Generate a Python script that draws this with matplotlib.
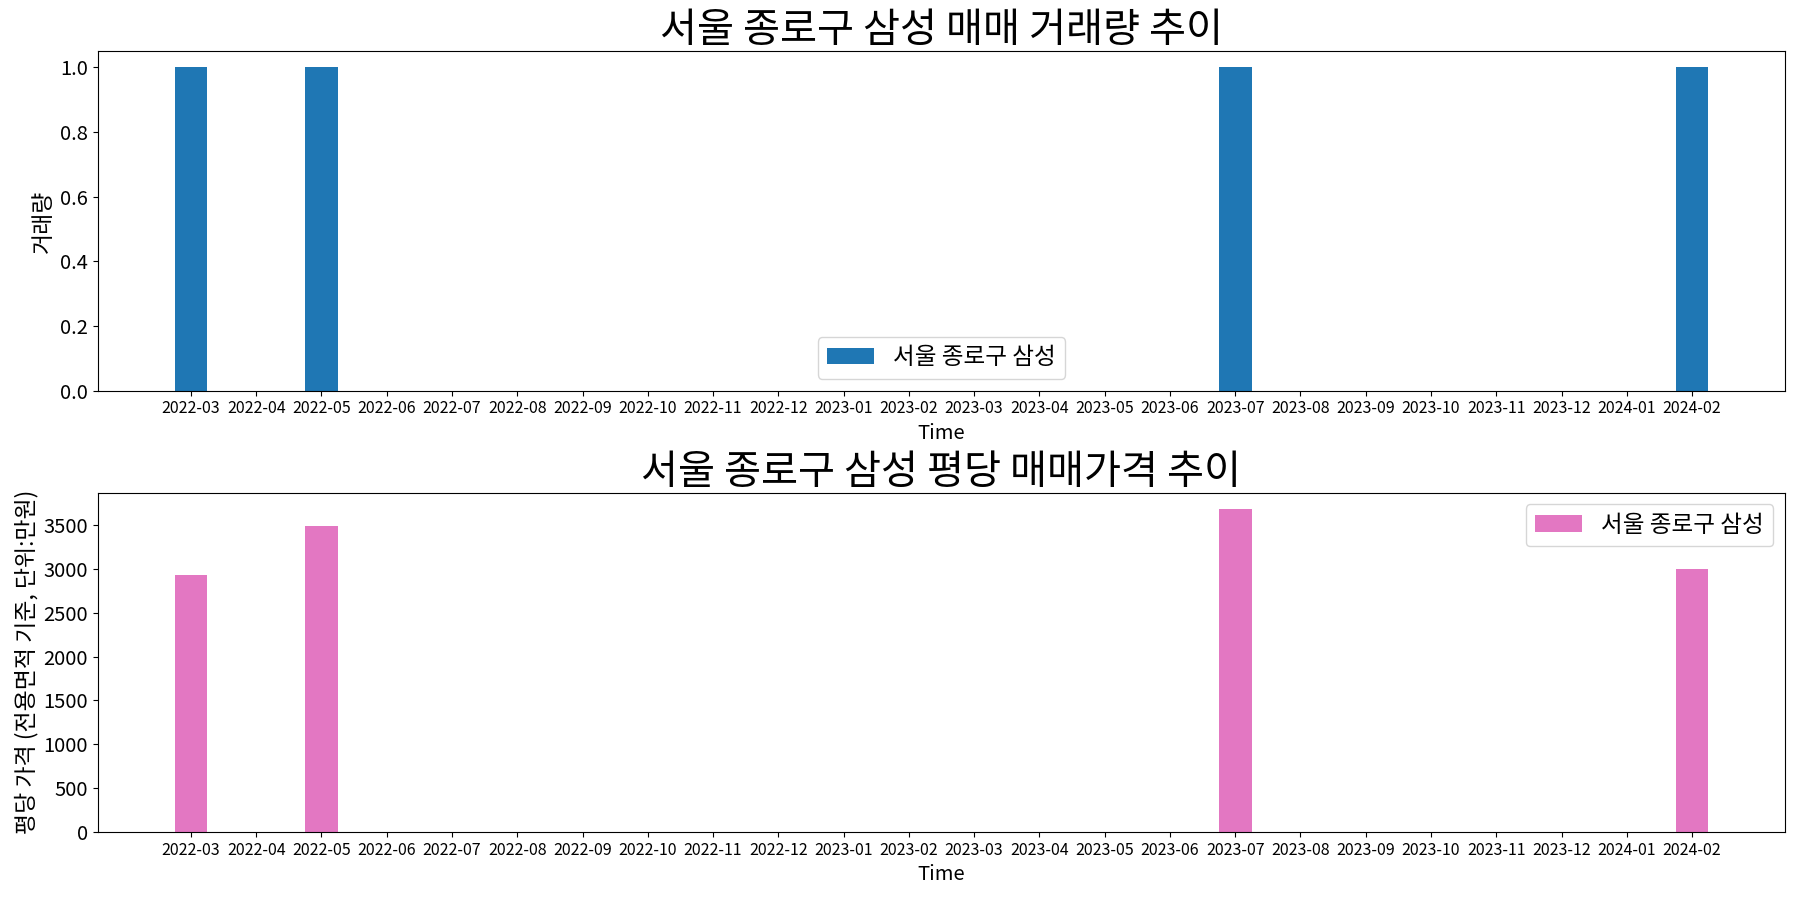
import numpy as np
import matplotlib
matplotlib.use("Agg")
import matplotlib.pyplot as plt

plt.rcParams['font.family'] = ['Noto Sans CJK KR', 'DejaVu Sans']
plt.rcParams['axes.unicode_minus'] = False

# Data
months = ['2022-03', '2022-04', '2022-05', '2022-06', '2022-07', '2022-08',
          '2022-09', '2022-10', '2022-11', '2022-12', '2023-01', '2023-02',
          '2023-03', '2023-04', '2023-05', '2023-06', '2023-07', '2023-08',
          '2023-09', '2023-10', '2023-11', '2023-12', '2024-01', '2024-02']
volume = [1, 0, 1, 0, 0, 0, 0, 0, 0, 0, 0, 0,
          0, 0, 0, 0, 1, 0, 0, 0, 0, 0, 0, 1]
price = [2927, 0, 3490, 0, 0, 0, 0, 0, 0, 0, 0, 0,
         0, 0, 0, 0, 3687, 0, 0, 0, 0, 0, 0, 2994]
region = '서울 종로구 삼성'

x = np.arange(len(months))

fig, (ax1, ax2) = plt.subplots(2, 1, figsize=(18, 9), dpi=100)

# Volume
ax1.bar(x, volume, width=0.5, color='#1f77b4', label=region)
ax1.set_title(f'{region} 매매 거래량 추이', fontsize=29)
ax1.set_xlabel('Time', fontsize=14.5)
ax1.set_ylabel('거래량', fontsize=16.5)
ax1.set_xticks(x)
ax1.set_xticklabels(months, fontsize=11.5)
ax1.tick_params(axis='y', labelsize=14.5)
ax1.legend(loc='lower center', fontsize=17)

# Price per pyeong
ax2.bar(x, price, width=0.5, color='#e377c2', label=region)
ax2.set_title(f'{region} 평당 매매가격 추이', fontsize=29)
ax2.set_xlabel('Time', fontsize=14.5)
ax2.set_ylabel('평당 가격 (전용면적 기준, 단위:만원)', fontsize=16.5)
ax2.set_xticks(x)
ax2.set_xticklabels(months, fontsize=11.5)
ax2.tick_params(axis='y', labelsize=14.5)
ax2.legend(loc='upper right', fontsize=17)

fig.subplots_adjust(left=0.0544, right=0.9917, top=0.943, bottom=0.0756, hspace=0.30)

plt.savefig('out.png')
